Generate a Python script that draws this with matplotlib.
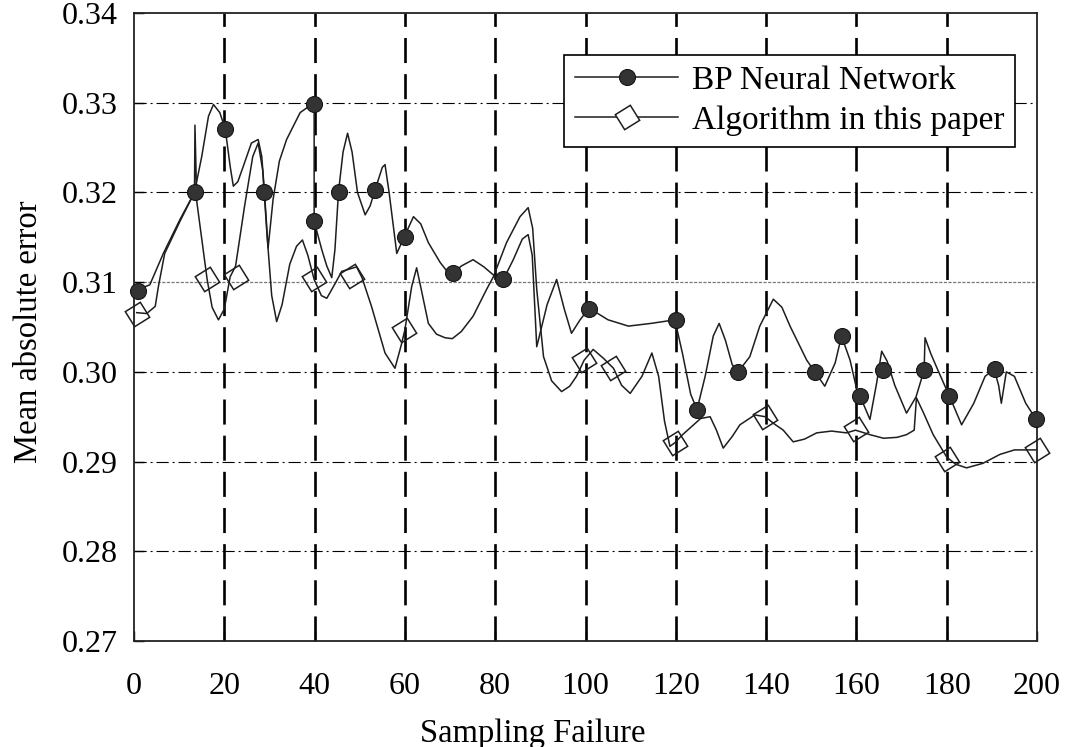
import matplotlib
matplotlib.use("Agg")
import matplotlib.pyplot as plt

plt.rcParams['font.family'] = ['Liberation Serif', 'DejaVu Serif']

# ---- data ----
bp_curve_x = [0.95, 3.5, 6.5, 10.2, 13.4, 15.0, 16.5, 17.6, 19.0, 20.2, 21.3, 22.0, 23.0, 24.2, 26.0,
              27.5, 28.3, 28.9, 29.7, 30.8, 32.2, 33.8, 36.8, 39.9, 39.9, 40.8, 41.6, 42.7, 43.8, 44.5,
              45.3, 46.3, 47.3, 48.3, 49.5, 51.2, 52.3, 53.4, 55.0, 55.6, 56.5, 58.2, 59.9, 61.9, 63.5,
              65.2, 67.8, 69.5, 70.7, 72.5, 75.1, 77.5, 79.6, 81.8, 84.0, 86.0, 87.3, 88.2, 89.2, 91.5,
              93.6, 95.3, 96.9, 98.8, 100.8, 105.0, 109.5, 114.5, 119.8, 121.5, 123.3, 124.7, 126.5,
              128.3, 129.6, 131.0, 132.5, 133.8, 136.4, 138.6, 141.6, 143.5, 145.3, 149.0, 150.8, 153.0,
              155.3, 156.7, 158.6, 160.1, 160.8, 163.0, 164.5, 165.6, 166.8, 168.5, 171.1, 173.2, 175.0,
              175.2, 176.5, 178.3, 180.6, 183.3, 186.0, 188.5, 190.5, 191.5, 192.1, 193.2, 195.0, 197.5,
              199.8]
bp_curve_y = [0.3092, 0.3097, 0.3132, 0.3170, 0.3200, 0.3240, 0.3285, 0.3298, 0.3289, 0.3271, 0.3229,
              0.3207, 0.3212, 0.3229, 0.3255, 0.3259, 0.3240, 0.3200, 0.3138, 0.3192, 0.3235, 0.3259,
              0.3289, 0.3300, 0.3168, 0.3151, 0.3136, 0.3118, 0.3105, 0.3136, 0.3201, 0.3245, 0.3266,
              0.3245, 0.3200, 0.3175, 0.3185, 0.3203, 0.3228, 0.3231, 0.3200, 0.3132, 0.3151, 0.3173,
              0.3165, 0.3144, 0.3122, 0.3111, 0.3110, 0.3118, 0.3125, 0.3117, 0.3108, 0.3103, 0.3125,
              0.3148, 0.3153, 0.3130, 0.3028, 0.3075, 0.3103, 0.3070, 0.3043, 0.3058, 0.3071, 0.3058,
              0.3051, 0.3054, 0.3058, 0.3020, 0.2975, 0.2958, 0.2995, 0.3040, 0.3054, 0.3035, 0.3008,
              0.3000, 0.3017, 0.3051, 0.3081, 0.3072, 0.3051, 0.3013, 0.3000, 0.2984, 0.3010, 0.3040,
              0.3013, 0.2980, 0.2973, 0.2947, 0.2988, 0.3023, 0.3012, 0.2985, 0.2954, 0.2972, 0.3002,
              0.3038, 0.3020, 0.2999, 0.2973, 0.2941, 0.2965, 0.2995, 0.3003, 0.2985, 0.2965, 0.3000,
              0.2995, 0.2965, 0.2947]

alg_curve_x = [0.6, 2.8, 4.7, 5.4, 6.8, 10.2, 13.4, 13.5, 13.9, 16.2, 17.3, 18.7, 20.0, 21.3, 22.5,
               24.5, 26.3, 27.5, 28.5, 29.5, 30.5, 31.6, 32.8, 34.5, 36.0, 37.3, 38.5, 39.9, 41.5, 42.7,
               44.5, 46.0, 48.0, 49.3, 50.5, 52.6, 55.6, 57.8, 59.2, 60.0, 61.5, 62.6, 63.7, 65.2, 67.0,
               68.9, 70.5, 72.5, 75.1, 78.1, 79.6, 82.5, 85.5, 87.3, 88.3, 89.2, 90.7, 92.5, 94.7, 96.5,
               98.0, 99.7, 101.7, 104.0, 106.2, 108.0, 109.9, 112.5, 114.7, 116.2, 117.5, 118.7, 119.8,
               121.5, 123.5, 125.5, 127.6, 129.0, 130.5, 132.5, 134.2, 137.5, 139.8, 141.8, 143.8, 146.0,
               148.5, 151.2, 154.5, 157.8, 159.8, 163.0, 166.0, 169.0, 171.1, 172.8, 173.3, 174.8, 177.0,
               180.0, 182.0, 184.4, 188.0, 191.8, 195.0, 197.7, 200.0]
alg_curve_y = [0.3066, 0.3065, 0.3073, 0.3095, 0.3132, 0.3168, 0.3200, 0.3275, 0.3190, 0.3103, 0.3072,
               0.3058, 0.3070, 0.3106, 0.3118, 0.3185, 0.3240, 0.3255, 0.3225, 0.3150, 0.3085, 0.3056,
               0.3075, 0.3120, 0.3140, 0.3147, 0.3130, 0.3103, 0.3085, 0.3082, 0.3098, 0.3112, 0.3115,
               0.3117, 0.3105, 0.3073, 0.3021, 0.3004, 0.3030, 0.3047, 0.3095, 0.3116, 0.3090, 0.3054,
               0.3042, 0.3038, 0.3037, 0.3045, 0.3062, 0.3092, 0.3106, 0.3144, 0.3173, 0.3183, 0.3160,
               0.3092, 0.3017, 0.2990, 0.2978, 0.2984, 0.2995, 0.3013, 0.3025, 0.3015, 0.3004, 0.2985,
               0.2976, 0.2995, 0.3021, 0.2995, 0.2945, 0.2917, 0.2921, 0.2930, 0.2939, 0.2948, 0.2950,
               0.2935, 0.2915, 0.2928, 0.2941, 0.2952, 0.2950, 0.2942, 0.2935, 0.2922, 0.2925, 0.2932,
               0.2934, 0.2932, 0.2935, 0.2930, 0.2926, 0.2927, 0.2930, 0.2935, 0.2971, 0.2955, 0.2930,
               0.2905, 0.2897, 0.2893, 0.2898, 0.2908, 0.2913, 0.2913, 0.2913]

bp_marker_x = [0.95, 13.4, 20.2, 28.9, 39.9, 39.9, 45.4, 53.4, 60.0, 70.7, 81.8, 100.8, 120.0, 124.8,
               133.8, 150.8, 156.7, 160.8, 165.8, 175.0, 180.6, 190.7, 199.8]
bp_marker_y = [0.3090, 0.3200, 0.3271, 0.3200, 0.3299, 0.3168, 0.3200, 0.3203, 0.3150, 0.3110, 0.3103,
               0.3070, 0.3058, 0.2958, 0.3000, 0.3000, 0.3040, 0.2973, 0.3002, 0.3002, 0.2973, 0.3003,
               0.2947]

alg_marker_x = [0.6, 16.2, 22.7, 39.9, 48.2, 59.8, 99.7, 106.2, 119.8, 139.8, 159.9, 180.0, 200.0]
alg_marker_y = [0.3065, 0.3103, 0.3106, 0.3103, 0.3107, 0.3047, 0.3013, 0.3004, 0.2921, 0.2950,
                0.2936, 0.2903, 0.2913]

x_ticks = [0, 20, 40, 60, 80, 100, 120, 140, 160, 180, 200]
y_ticks = [0.27, 0.28, 0.29, 0.30, 0.31, 0.32, 0.33, 0.34]
series_names = ["BP Neural Network", "Algorithm in this paper"]
x_label = "Sampling Failure"
y_label = "Mean absolute error"

# ---- figure ----
W, H = 1066, 747
fig = plt.figure(figsize=(W / 100, H / 100), dpi=100)
ax = fig.add_axes([134 / W, 1 - 641 / H, (1037 - 134) / W, (641 - 13) / H])
ax.set_xlim(0, 200)
ax.set_ylim(0.27, 0.34)

# grid lines
for xv in x_ticks[1:-1]:
    ax.axvline(xv, color='black', lw=1.9, linestyle=(0, (9.5, 4.2)), zorder=1)
for yv in y_ticks[1:-1]:
    if abs(yv - 0.31) < 1e-9:
        ax.axhline(yv, color='#777777', lw=0.9, linestyle=(0, (2.5, 1.2)), zorder=1)
    else:
        ax.axhline(yv, color='black', lw=0.8, linestyle=(0, (11, 3.5, 1.8, 3.5)), zorder=1)

line_col = '#1e1e1e'
ax.plot(bp_curve_x, bp_curve_y, color=line_col, lw=1.1, zorder=3, solid_joinstyle='round')
ax.plot(alg_curve_x, alg_curve_y, color=line_col, lw=1.1, zorder=3, solid_joinstyle='round')

diamond = (4, 0, -13)
ax.plot(bp_marker_x, bp_marker_y, linestyle='none', marker='o', markersize=11.5,
        markerfacecolor='#333333', markeredgecolor='#151515', markeredgewidth=0.8,
        zorder=5, clip_on=False)
ax.plot(alg_marker_x, alg_marker_y, linestyle='none', marker=diamond, markersize=18,
        markerfacecolor='none', markeredgecolor='#1e1e1e', markeredgewidth=1.1,
        zorder=5, clip_on=False)

# legend handles
h1, = ax.plot([], [], color=line_col, lw=1.1, marker='o', markersize=11.5,
              markerfacecolor='#333333', markeredgecolor='#151515', markeredgewidth=0.8)
h2, = ax.plot([], [], color=line_col, lw=1.1, marker=diamond, markersize=18,
              markerfacecolor='white', markeredgecolor='#1e1e1e', markeredgewidth=1.1)
leg = ax.legend([h1, h2], series_names, loc='upper right',
                bbox_to_anchor=(1015 / W, 1 - 55 / H), bbox_transform=fig.transFigure,
                borderaxespad=0, fontsize=24, handlelength=3.1, handletextpad=0.4,
                labelspacing=0.28, borderpad=0.32, fancybox=False, framealpha=1,
                edgecolor='black', frameon=True)
leg.get_frame().set_linewidth(1.2)
leg.set_zorder(10)

# ticks and labels
ax.set_xticks(x_ticks)
ax.set_yticks(y_ticks)
ax.set_xticklabels([str(v) for v in x_ticks])
ax.set_yticklabels([f"{v:.2f}" for v in y_ticks])
ax.tick_params(axis='both', direction='in', length=7, width=1.0, labelsize=23, colors='black')
ax.tick_params(axis='x', pad=22)
ax.tick_params(axis='y', pad=12)
for s in ax.spines.values():
    s.set_linewidth(1.3)
    s.set_color('#222222')

ax.set_xlabel(x_label, fontsize=23.5)
ax.xaxis.set_label_coords(0.442, -0.147)
ax.xaxis.label.set_va('center')
ax.set_ylabel(y_label, fontsize=23.5)
ax.yaxis.set_label_coords(-0.117, 0.492)
ax.yaxis.label.set_va('center')

fig.savefig("out.png", dpi=100)
